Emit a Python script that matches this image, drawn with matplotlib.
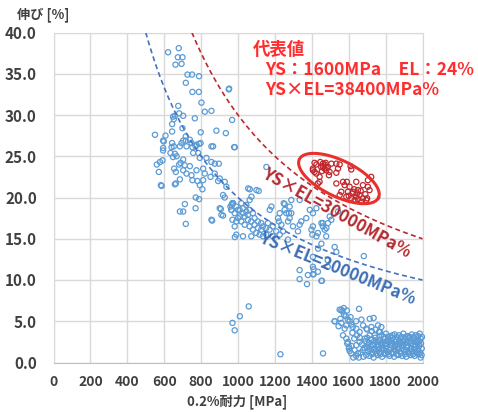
import numpy as np
import matplotlib
matplotlib.use("Agg")
import matplotlib.pyplot as plt

plt.rcParams['font.family'] = ['Noto Sans CJK JP', 'DejaVu Sans']

# 0.2% proof stress [MPa] vs elongation [%]  (blue: general data)
blue_left = [
    (621, 37.6), (679, 38.1), (674, 37.0), (699, 37.0), (661, 36.1), (694, 36.2),
    (726, 34.9), (751, 34.9), (789, 34.7), (717, 33.9), (753, 32.8), (788, 32.8),
    (950, 33.1), (952, 33.2), (802, 31.5), (676, 31.1), (820, 30.4), (856, 30.5),
    (648, 29.8), (658, 29.9), (681, 30.2), (703, 29.9), (652, 29.5), (766, 29.6),
    (968, 29.4), (699, 28.4), (643, 28.9), (643, 28.0), (607, 27.5), (594, 26.9),
    (798, 27.9), (883, 28.1), (934, 27.8), (717, 27.4), (739, 27.0), (703, 26.9),
    (789, 26.5), (865, 26.2), (983, 26.1), (640, 26.1), (685, 26.2), (721, 26.2),
    (753, 26.1), (770, 26.2), (594, 26.0), (598, 26.8), (643, 26.6), (652, 26.2),
    (694, 26.6), (717, 26.9), (748, 26.6), (775, 26.4), (797, 26.6), (856, 26.2),
    (979, 26.1), (594, 25.7), (634, 25.4), (658, 25.3), (667, 25.0), (648, 24.9),
    (757, 25.4), (784, 25.4), (793, 24.8), (703, 24.6), (689, 24.2), (681, 24.0),
    (712, 23.9), (829, 24.8), (856, 24.3), (874, 24.1), (896, 24.1), (577, 24.3),
    (591, 24.5), (739, 23.8), (654, 23.5), (663, 23.1), (703, 23.3), (721, 22.9),
    (748, 22.7), (775, 23.3), (811, 23.5), (820, 22.9), (571, 23.1), (874, 22.9),
    (851, 22.5), (901, 22.3), (892, 22.0), (928, 21.9), (753, 22.1), (780, 22.0),
    (811, 22.1), (793, 21.5), (685, 22.2), (663, 21.7), (586, 21.4), (807, 21.0),
    (937, 21.3), (919, 20.3), (928, 20.0), (771, 20.0), (789, 19.8), (970, 19.3),
    (965, 19.1), (712, 19.2), (770, 18.7), (907, 18.6), (685, 18.3), (919, 17.8),
    (970, 17.3), (717, 16.8), (860, 17.2), (983, 15.2), (582, 21.5), (658, 21.6),
    (703, 18.3), (856, 17.3), (901, 18.7), (910, 17.9), (965, 18.5), (973, 19.3),
    (1064, 21.0), (1100, 20.9), (550, 27.6), (560, 24.0),
]

blue_mid = [
    (1154, 23.7), (1055, 21.1), (1073, 20.1), (1112, 20.8), (970, 19.3), (959, 18.9),
    (973, 19.3), (991, 18.9), (1009, 18.5), (1027, 18.7), (1045, 18.3), (1054, 17.9),
    (1063, 18.5), (1081, 18.1), (1090, 17.5), (1108, 17.1), (1126, 16.9), (1135, 16.5),
    (1153, 16.3), (1171, 16.1), (1189, 16.5), (1000, 17.5), (1018, 17.1), (1036, 16.7),
    (1063, 16.5), (1081, 16.1), (1099, 15.7), (1117, 15.5), (982, 16.5), (991, 15.5),
    (1027, 15.3), (1072, 15.3), (1135, 15.3), (1009, 17.7), (1036, 17.7), (1054, 17.3),
    (1072, 17.1), (982, 18.1), (964, 18.5), (1045, 19.1), (1063, 19.7), (1018, 19.3),
    (1027, 18.1), (1000, 18.5), (1090, 16.7), (1108, 16.3), (1162, 16.9), (1207, 15.9),
    (1226, 15.5), (1244, 15.9), (1271, 14.9), (1153, 15.5), (1126, 16.1), (1189, 15.3),
    (1217, 17.5), (1235, 16.7), (1253, 18.5), (1276, 18.1), (1280, 18.9), (1289, 19.7),
    (1334, 19.7), (1370, 17.5), (1406, 18.1), (1343, 17.1), (1460, 16.5), (1478, 15.3),
    (1181, 18.9), (1172, 18.5), (1248, 19.3), (1289, 18.1), (1262, 18.1), (1280, 17.5),
    (1271, 17.1), (1226, 18.1), (1222, 17.1), (1298, 16.5), (1334, 16.7), (1325, 15.9),
    (1398, 16.1), (1403, 15.5), (1433, 15.7), (1479, 16.3), (1488, 16.9), (1460, 16.9),
    (1253, 19.2), (1389, 18.5), (1425, 18.7), (991, 17.1), (1334, 11.2), (1379, 10.6),
    (1433, 11.0), (1682, 12.9), (1406, 12.8), (1406, 11.6), (1406, 10.7), (1334, 10.1),
    (1374, 9.5), (1452, 9.9), (1486, 12.4), (1486, 11.6), (1524, 14.0), (1533, 13.4),
    (1452, 14.4), (1434, 13.8), (1425, 15.3), (1470, 16.1), (1406, 16.5), (1452, 16.9),
    (1497, 17.7), (1506, 17.3), (1542, 18.3), (1410, 10.7), (1410, 11.3), (1455, 9.9),
    (1058, 6.8), (1010, 5.6), (970, 4.8), (982, 3.9), (1524, 5.0), (1551, 6.4),
    (1230, 1.0), (1461, 1.1),
]

blue_low = [
    (1573, 6.6), (1566, 6.2), (1560, 6.4), (1656, 6.5), (1524, 5.0), (1555, 5.3),
    (1584, 5.6), (1596, 5.2), (1605, 5.0), (1614, 4.6), (1623, 4.3), (1587, 4.5),
    (1578, 4.1), (1569, 3.3), (1587, 2.9), (1596, 2.5), (1602, 1.9), (1605, 1.4),
    (1614, 1.1), (1669, 5.2), (1714, 5.3), (1735, 5.4), (1678, 4.5), (1641, 4.1),
    (1659, 3.7), (1696, 4.1), (1723, 4.3), (1759, 4.5), (1777, 4.3), (1764, 3.7),
    (1741, 3.3), (1714, 3.3), (1687, 2.9), (1659, 2.5), (1641, 2.1), (1632, 1.5),
    (1650, 1.1), (1678, 1.5), (1705, 2.1), (1592, 2.3), (1601, 1.7),
    (1620, 3.6), (1630, 2.9), (1645, 3.3), (1660, 3.0), (1672, 2.2), (1690, 2.6),
    (1700, 3.0), (1685, 1.8), (1665, 1.2), (1695, 0.9), (1640, 0.8), (1625, 0.6),
    (1655, 0.6), (1680, 0.7), (1615, 2.0), (1700, 4.0), (1725, 3.8), (1745, 4.0),
    (1770, 3.7), (1610, 5.5), (1575, 5.8), (1590, 6.3), (1545, 4.4), (1640, 5.0),
    (1560, 4.8),
    (1712, 0.8), (1735, 0.6), (1758, 0.9), (1781, 0.7), (1800, 1.0), (1822, 0.8),
    (1846, 0.7), (1868, 0.9), (1890, 0.8), (1912, 0.7), (1935, 0.9), (1958, 0.8),
    (1980, 1.0), (1995, 0.9), (1705, 1.3), (1724, 1.2), (1746, 1.4), (1767, 1.2),
    (1789, 1.5), (1811, 1.3), (1833, 1.2), (1855, 1.4), (1877, 1.3), (1899, 1.5),
    (1921, 1.2), (1943, 1.4), (1965, 1.3), (1987, 1.2), (1700, 1.8), (1718, 2.0),
    (1740, 1.7), (1762, 1.9), (1784, 1.8), (1806, 2.0), (1828, 1.7), (1850, 1.9),
    (1872, 1.8), (1894, 2.0), (1916, 1.8), (1938, 1.7), (1960, 1.9), (1982, 2.0),
    (1996, 1.7), (1710, 2.4), (1731, 2.2), (1752, 2.5), (1774, 2.3), (1796, 2.2),
    (1818, 2.5), (1840, 2.3), (1862, 2.2), (1884, 2.4), (1906, 2.3), (1928, 2.5),
    (1950, 2.2), (1972, 2.4), (1992, 2.3), (1722, 2.8), (1744, 3.0), (1770, 2.7),
    (1792, 2.9), (1815, 2.8), (1837, 3.0), (1859, 2.7), (1881, 2.9), (1903, 2.8),
    (1925, 3.0), (1947, 2.8), (1969, 2.7), (1990, 2.9), (1778, 3.3), (1802, 3.5),
    (1826, 3.2), (1849, 3.4), (1873, 3.3), (1896, 3.5), (1919, 3.2), (1942, 3.4),
    (1964, 3.3), (1985, 3.5), (1727, 1.0), (1749, 1.1), (1771, 1.0), (1793, 1.1),
    (1815, 1.0), (1839, 1.1), (1861, 1.0), (1883, 1.1), (1905, 1.0), (1927, 1.1),
    (1949, 1.0), (1971, 1.1), (1990, 0.6), (1713, 1.6), (1735, 1.5), (1757, 1.6),
    (1779, 1.6), (1801, 1.7), (1823, 1.5), (1845, 1.6), (1867, 1.6), (1889, 1.7),
    (1911, 1.5), (1933, 1.6), (1955, 1.6), (1977, 1.5), (1728, 2.2), (1756, 2.1),
    (1778, 2.1), (1800, 2.3), (1829, 2.1), (1851, 2.1), (1873, 2.2), (1895, 2.1),
    (1917, 2.1), (1939, 2.3), (1961, 2.1), (1983, 2.2), (1738, 2.6), (1760, 2.6),
    (1785, 2.5), (1807, 2.6), (1830, 2.6), (1851, 2.5), (1873, 2.6), (1895, 2.6),
    (1917, 2.5), (1939, 2.6), (1961, 2.6), (1981, 2.6), (1790, 3.1), (1813, 3.1),
    (1838, 3.3), (1860, 3.1), (1885, 3.1), (1908, 3.1), (1931, 3.1), (1953, 3.1),
    (1976, 3.2), (1997, 3.1),
]

# red: representative material
red_pts = [
    (1415, 24.2), (1446, 24.3), (1460, 24.1), (1475, 24.2), (1451, 23.7), (1469, 23.5),
    (1478, 23.3), (1487, 23.7), (1496, 23.1), (1506, 24.1), (1533, 24.1), (1542, 23.5),
    (1551, 24.0), (1533, 23.0), (1493, 22.7), (1415, 23.1), (1406, 23.5), (1424, 22.9),
    (1442, 22.5), (1442, 21.9), (1433, 21.7), (1614, 23.4), (1722, 22.5), (1704, 22.1),
    (1704, 21.3), (1713, 20.9), (1677, 21.5), (1641, 21.9), (1605, 21.3), (1578, 21.5),
    (1596, 20.7), (1623, 20.7), (1650, 20.9), (1659, 20.3), (1641, 20.1), (1614, 19.9),
    (1677, 19.9), (1695, 19.7), (1668, 19.5), (1632, 19.7), (1569, 21.9), (1560, 20.7),
    (1587, 20.1), (1551, 20.3), (1533, 21.7), (1406, 23.3), (1620, 20.5), (1630, 21.0),
    (1645, 20.5), (1600, 20.2), (1665, 20.8), (1690, 20.4), (1700, 19.9), (1650, 19.8),
    (1460, 23.8), (1470, 24.0), (1480, 23.6), (1455, 23.2), (1425, 24.0), (1590, 21.9),
    (1610, 23.8),
]

ys_el_levels = [20000, 30000]
curve_labels = ["YS×EL=20000MPa%", "YS×EL=30000MPa%"]
rep_lines = ["代表値", "YS：1600MPa　EL：24%", "YS×EL=38400MPa%"]

blue = np.array(blue_left + blue_mid + blue_low)
red = np.array(red_pts)

W, H = 478, 412
fig = plt.figure(figsize=(W / 100, H / 100), dpi=100)
ax = fig.add_axes([53.5 / W, 1 - 362.5 / H, 369 / W, 330 / H])

ax.scatter(blue[:, 0], blue[:, 1], s=14, facecolors='none', edgecolors='#5B9BD5',
           linewidths=0.9, zorder=3, clip_on=False)
ax.scatter(red[:, 0], red[:, 1], s=14, facecolors='none', edgecolors='#C0282E',
           linewidths=0.9, zorder=4)

# constant YS x EL curves
cols = ['#4472C4', '#C0282E']
for lvl, c in zip(ys_el_levels, cols):
    xs = np.linspace(lvl / 40, 2000, 200)
    ax.plot(xs, lvl / xs, ls=(0, (3, 2)), lw=1.2, color=c, zorder=5)

ax.text(1540, 11.4, curve_labels[0], color='#3E6FB5', fontsize=12, fontweight='bold',
        rotation=-22, ha='center', va='center', zorder=6)
ax.text(1535, 18.1, curve_labels[1], color='#B42A30', fontsize=12, fontweight='bold',
        rotation=-29, ha='center', va='center', zorder=6)

# ellipse round the representative cluster (drawn in pixel proportions)
sx, sy = 369 / 2000, 330 / 40
cx, cy, a, b, th = 1547, 22.3, 44, 18, np.radians(26)
t = np.linspace(0, 2 * np.pi, 200)
dx = a * np.cos(t) * np.cos(th) - b * np.sin(t) * np.sin(th)
dy = a * np.cos(t) * np.sin(th) + b * np.sin(t) * np.cos(th)
ax.plot(cx + dx / sx, cy - dy / sy, color='#E8302C', lw=2.2, zorder=7)

ax.set_xlim(0, 2000)
ax.set_ylim(0, 40)
ax.set_xticks(np.arange(0, 2001, 200))
ax.set_yticks(np.arange(0, 40.1, 5))
ax.set_yticklabels([f"{v:.1f}" for v in np.arange(0, 40.1, 5)])
ax.grid(True, color='#D9D9D9', lw=1)
ax.set_axisbelow(True)
for s in ax.spines.values():
    s.set_color('#D9D9D9')
ax.spines['bottom'].set_color('#BFBFBF')
ax.tick_params(length=0, colors='#404040')
for lab in ax.get_xticklabels():
    lab.set_fontsize(10)
    lab.set_fontweight('bold')
for lab in ax.get_yticklabels():
    lab.set_fontsize(11)
    lab.set_fontweight('bold')
ax.tick_params(axis='x', pad=9)
ax.tick_params(axis='y', pad=12)

fig.text(17 / W, 1 - 15 / H, "伸び [%]", fontsize=9.5, fontweight='bold',
         color='#404040', va='center')
fig.text(237 / W, 1 - 402 / H, "0.2%耐力 [MPa]", fontsize=9.5, fontweight='bold',
         color='#404040', ha='center', va='center')

rep_pos = [(253, 50), (265, 70), (265, 90)]
for txt, (px, py) in zip(rep_lines, rep_pos):
    fig.text(px / W, 1 - py / H, txt, fontsize=12.5, fontweight='bold',
             color='#FF2D2D', va='center')

fig.savefig("out.png", dpi=100)
